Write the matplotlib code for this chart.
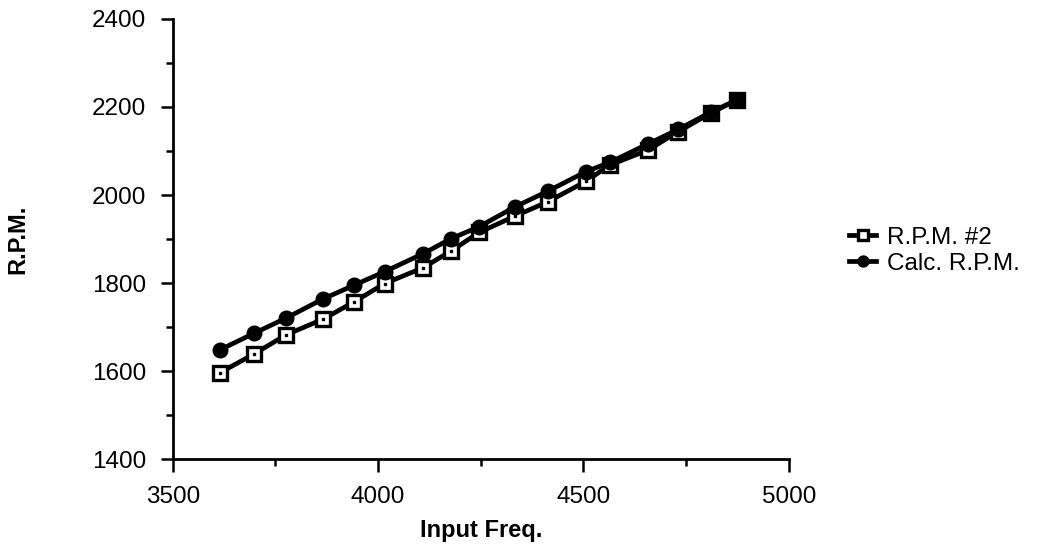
import numpy as np
import matplotlib
matplotlib.use('Agg')
import matplotlib.pyplot as plt
from matplotlib.ticker import MultipleLocator

plt.rcParams['font.family'] = ['Liberation Sans', 'DejaVu Sans']

# values
freq = [3614, 3698, 3777, 3866, 3941, 4016, 4110, 4178, 4246, 4333, 4414,
        4506, 4564, 4657, 4731, 4812, 4874]
rpm2 = [1596, 1639, 1683, 1718, 1757, 1799, 1835, 1873, 1915, 1952, 1985,
        2031, 2068, 2102, 2144, 2187, 2216]
calc = [1648, 1686, 1721, 1764, 1795, 1826, 1867, 1901, 1928, 1973, 2009,
        2053, 2074, 2116, 2149, 2189, 2216]

fig = plt.figure(figsize=(10.53, 5.56), dpi=100, facecolor='w')
ax = fig.add_axes([0.164, 0.174, 0.585, 0.792])

ax.plot(freq, rpm2, color='black', lw=3.4, marker='s', ms=10.5,
        mfc='white', mec='black', mew=2.4, label='R.P.M. #2', zorder=3)
ax.plot(freq, rpm2, color='black', ls='', marker='s', ms=2, zorder=3.5)
ax.plot(freq, calc, color='black', lw=3.4, marker='o', ms=10.5,
        label='Calc. R.P.M.', zorder=4)

ax.set_xlim(3500, 5000)
ax.set_ylim(1400, 2400)
ax.xaxis.set_major_locator(MultipleLocator(500))
ax.xaxis.set_minor_locator(MultipleLocator(250))
ax.yaxis.set_major_locator(MultipleLocator(200))
ax.yaxis.set_minor_locator(MultipleLocator(100))

for s in ['top', 'right']:
    ax.spines[s].set_visible(False)
for s in ['left', 'bottom']:
    ax.spines[s].set_linewidth(2)

ax.tick_params(which='major', direction='out', length=9, width=1.8,
               pad=10, labelsize=17.5)
ax.tick_params(which='minor', direction='out', length=5, width=1.8)

ax.set_ylabel('R.P.M.', fontsize=17, fontweight='bold')
ax.yaxis.set_label_coords(-0.232, 0.5)
ax.set_xlabel('Input Freq.', fontsize=17, fontweight='bold')
ax.xaxis.set_label_coords(0.5, -0.135)

hs, ls = ax.get_legend_handles_labels()
fig.legend(hs, ls, loc='center left', bbox_to_anchor=(0.795, 0.549),
           frameon=False, fontsize=17.5, handlelength=1.1, handletextpad=0.45,
           labelspacing=0.15, markerscale=0.75, borderpad=0)

plt.savefig('out.png', dpi=100)
